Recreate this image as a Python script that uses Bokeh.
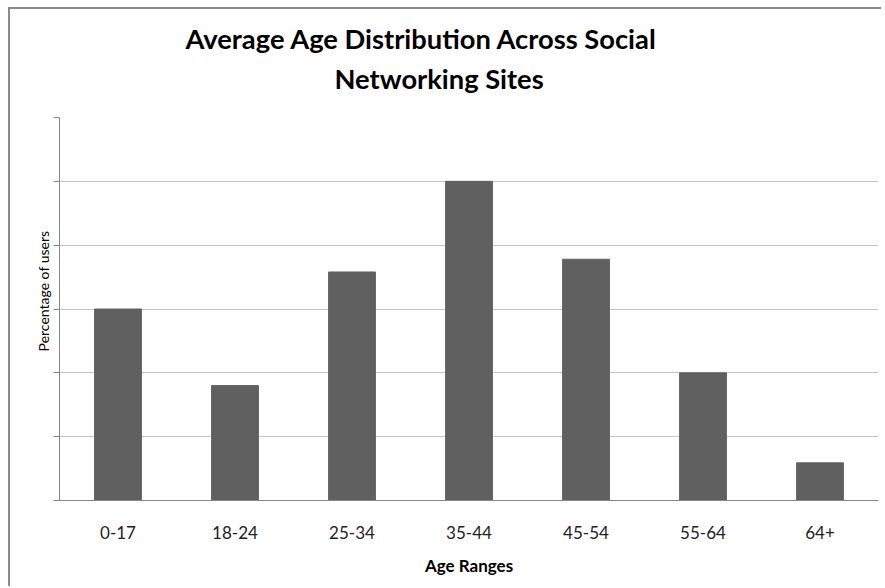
from bokeh.plotting import figure
from bokeh.models import FactorRange, Range1d, FixedTicker, Title
from bokeh.embed import file_html
from bokeh.resources import INLINE

age_ranges = ["0-17", "18-24", "25-34", "35-44", "45-54", "55-64", "64+"]
percent_users = [15, 9, 17.9, 25, 18.9, 10, 2.95]
y_ticks = [0, 5, 10, 15, 20, 25, 30]
title_line1 = "Average Age Distribution Across Social"
title_line2 = "Networking Sites"

FONT = "Lato"

p = figure(
    x_range=FactorRange(*age_ranges, range_padding=0),
    y_range=Range1d(0, 30),
    width=873, height=579,
    output_backend="svg", toolbar_location=None,
    min_border_left=49, min_border_right=5,
    min_border_top=108, min_border_bottom=88,
)
p.styles = {"position": "absolute", "left": "8px", "top": "7px",
            "border-left": "2px solid #8a8a8a", "border-top": "2px solid #8a8a8a",
            "border-right": "none", "border-bottom": "none"}

def style_title(t, offset, standoff):
    t.align = "left"
    t.offset = offset
    t.text_font = FONT
    t.text_font_style = "bold"
    t.text_font_size = "27.3px"
    t.text_color = "#000000"
    t.standoff = standoff

p.title.text = title_line1
style_title(p.title, 126, 0)
# thin blank spacer between the two-line title and the plot frame (nearest the frame)
spacer = Title(text="\u00a0", text_font_size="2px", standoff=14, text_color="#ffffff")
p.add_layout(spacer, "above")
t2 = Title(text=title_line2)
style_title(t2, 275, 10)
p.add_layout(t2, "above")

p.vbar(x=age_ranges, top=percent_users, width=0.40,
       fill_color="#606060", line_color="#606060")

p.outline_line_color = None
p.xgrid.grid_line_color = None
p.ygrid.grid_line_color = "#c4c4c4"
p.ygrid.grid_line_width = 1
p.yaxis.ticker = FixedTicker(ticks=y_ticks)
p.yaxis.major_label_text_font_size = "0px"
p.yaxis.major_label_standoff = 0
p.yaxis.major_tick_out = 6
p.yaxis.major_tick_in = 0
p.yaxis.minor_tick_line_color = None
p.yaxis.axis_line_color = "#868686"
p.yaxis.major_tick_line_color = "#868686"
p.yaxis.axis_label = "\u00a0" * 10 + "Percentage of users"
p.yaxis.axis_label_text_font = FONT
p.yaxis.axis_label_text_font_style = "normal"
p.yaxis.axis_label_text_font_size = "14px"
p.yaxis.axis_label_text_color = "#000000"
p.yaxis.axis_label_standoff = 2

p.xaxis.axis_line_color = "#868686"
p.xaxis.major_tick_line_color = None
p.xaxis.major_label_text_font = FONT
p.xaxis.major_label_text_font_size = "17px"
p.xaxis.major_label_text_color = "#222222"
p.xaxis.major_label_standoff = 19
p.xaxis.axis_label = "Age Ranges"
p.xaxis.axis_label_text_font = FONT
p.xaxis.axis_label_text_font_style = "bold"
p.xaxis.axis_label_text_font_size = "17px"
p.xaxis.axis_label_text_color = "#000000"
p.xaxis.axis_label_standoff = 13

open("out.html", "w").write(file_html(p, INLINE))
